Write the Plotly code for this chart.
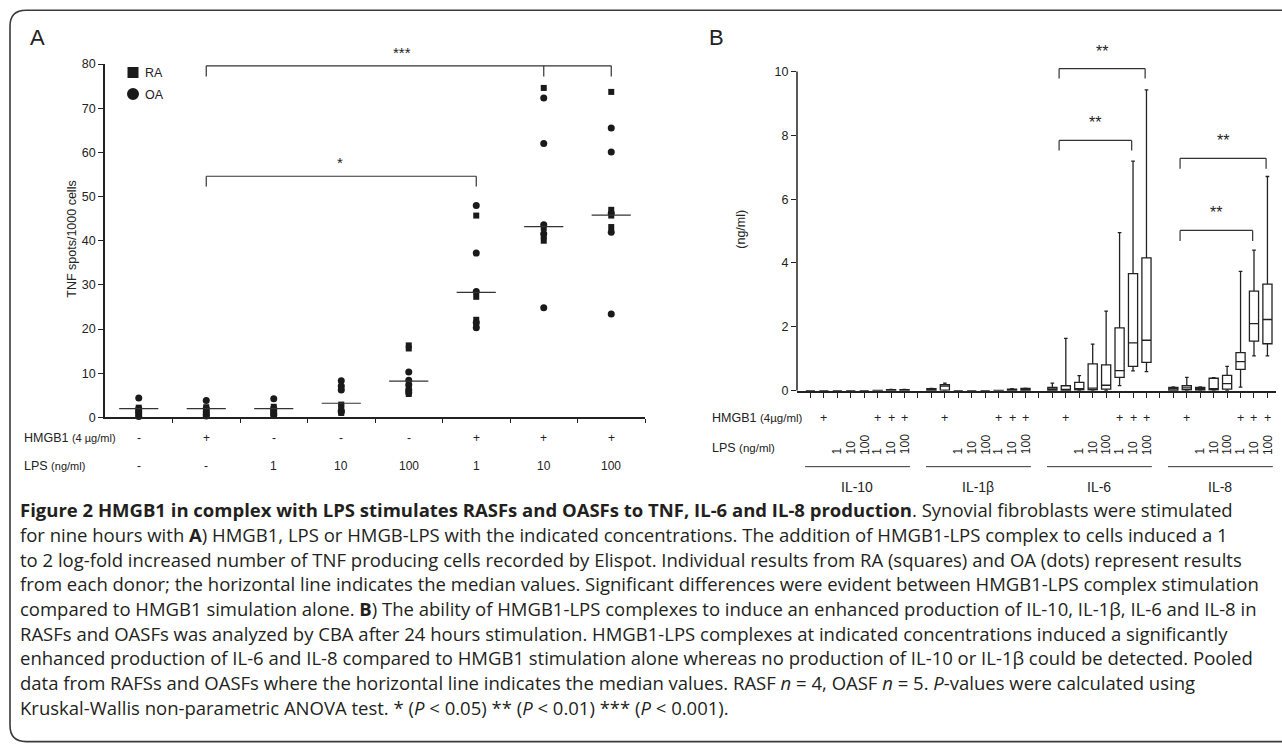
import plotly.graph_objects as go

W, H = 1282, 749

# ---------------- Panel A data (TNF spots / 1000 cells) ----------------
a_categories = [1, 2, 3, 4, 5, 6, 7, 8]
a_hmgb1 = ["-", "+", "-", "-", "-", "+", "+", "+"]
a_lps = ["-", "-", "1", "10", "100", "1", "10", "100"]
a_ra = [
    [2.2, 1.6, 1.0, 0.6],
    [2.3, 1.7, 1.1, 0.5],
    [2.4, 1.8, 1.2, 0.8],
    [6.6, 2.9, 2.4, 1.0],
    [16.3, 15.6, 6.5, 5.3],
    [45.7, 27.3, 22.1, 20.8],
    [74.6, 42.9, 41.0, 40.0],
    [73.7, 47.0, 45.7, 43.1],
]
a_oa = [
    [4.4, 2.0, 1.4, 0.8, 0.2],
    [3.8, 2.0, 1.3, 0.7, 0.3],
    [4.2, 2.0, 1.5, 0.9, 0.5],
    [8.3, 7.1, 6.2, 1.5, 1.2],
    [10.3, 8.4, 7.4, 6.2, 5.6],
    [48.0, 37.2, 28.5, 21.5, 20.3],
    [72.3, 62.0, 43.6, 41.6, 24.8],
    [65.5, 60.1, 46.2, 41.9, 23.4],
]
a_median = [2.0, 2.0, 2.0, 3.2, 8.2, 28.3, 43.2, 45.8]
a_yticks = [0, 10, 20, 30, 40, 50, 60, 70, 80]

# ---------------- Panel B data (ng/ml) ----------------
b_cytokines = ["IL-10", "IL-1β", "IL-6", "IL-8"]
b_hmgb1 = ["", "+", "", "", "", "+", "+", "+"]
b_lps = ["", "", "1", "10", "100", "1", "10", "100"]
b_lower = [
    [0, 0, 0, 0, 0, 0, 0, 0],
    [0, 0, 0, 0, 0, 0, 0, 0],
    [0, 0, 0, 0.01, 0, 0.16, 0.62, 0.60],
    [0, 0, 0, 0, 0, 0.11, 1.09, 1.09],
]
b_q1 = [
    [0, 0, 0, 0, 0, 0, 0.005, 0.005],
    [0.01, 0.02, 0, 0, 0, 0, 0.01, 0.01],
    [0.01, 0.01, 0.03, 0.03, 0.05, 0.42, 0.76, 0.89],
    [0.01, 0.03, 0.02, 0.03, 0.05, 0.67, 1.55, 1.47],
]
b_median = [
    [0, 0, 0, 0, 0, 0, 0.01, 0.01],
    [0.02, 0.14, 0, 0, 0, 0, 0.03, 0.04],
    [0.05, 0.03, 0.05, 0.08, 0.17, 0.63, 1.50, 1.58],
    [0.06, 0.09, 0.06, 0.06, 0.22, 0.91, 2.10, 2.23],
]
b_q3 = [
    [0, 0, 0, 0, 0, 0.01, 0.03, 0.03],
    [0.06, 0.19, 0, 0, 0, 0.01, 0.05, 0.07],
    [0.10, 0.155, 0.26, 0.84, 0.81, 1.97, 3.67, 4.16],
    [0.10, 0.155, 0.10, 0.39, 0.48, 1.19, 3.12, 3.34],
]
b_upper = [
    [0, 0, 0, 0, 0, 0.01, 0.04, 0.04],
    [0.07, 0.24, 0, 0, 0, 0.01, 0.06, 0.08],
    [0.24, 1.64, 0.47, 1.46, 2.49, 4.95, 7.19, 9.42],
    [0.12, 0.42, 0.12, 0.41, 0.76, 3.74, 4.40, 6.71],
]
b_yticks = [0, 2, 4, 6, 8, 10]

caption_lines = [
    "<b>Figure 2 HMGB1 in complex with LPS stimulates RASFs and OASFs to TNF, IL-6 and IL-8 production</b>. Synovial fibroblasts were stimulated",
    "for nine hours with <b>A</b>) HMGB1, LPS or HMGB-LPS with the indicated concentrations. The addition of HMGB1-LPS complex to cells induced a 1",
    "to 2 log-fold increased number of TNF producing cells recorded by Elispot. Individual results from RA (squares) and OA (dots) represent results",
    "from each donor; the horizontal line indicates the median values. Significant differences were evident between HMGB1-LPS complex stimulation",
    "compared to HMGB1 simulation alone. <b>B</b>) The ability of HMGB1-LPS complexes to induce an enhanced production of IL-10, IL-1β, IL-6 and IL-8 in",
    "RASFs and OASFs was analyzed by CBA after 24 hours stimulation. HMGB1-LPS complexes at indicated concentrations induced a significantly",
    "enhanced production of IL-6 and IL-8 compared to HMGB1 stimulation alone whereas no production of IL-10 or IL-1β could be detected. Pooled",
    "data from RAFSs and OASFs where the horizontal line indicates the median values. RASF <i>n</i> = 4, OASF <i>n</i> = 5. <i>P</i>-values were calculated using",
    "Kruskal-Wallis non-parametric ANOVA test. * (<i>P</i> &lt; 0.05) ** (<i>P</i> &lt; 0.01) *** (<i>P</i> &lt; 0.001).",
]

INK = "#222222"
FONT = "Arial, Liberation Sans, sans-serif"


def px(x):
    return x / W


def py(y):
    # target pixel row -> paper coordinate (small correction for observed vertical offset)
    yc = (y - 7.2) / 0.9816
    return 1 - yc / H


def note(text, x, y, xref="paper", yref="paper", size=12, xanchor="center", yanchor="middle", **kw):
    d = dict(text=text, x=x, y=y, xref=xref, yref=yref, showarrow=False,
             xanchor=xanchor, yanchor=yanchor, font=dict(size=size, color=INK))
    d.update(kw)
    return d


fig = go.Figure()

# ---- Panel A traces ----
ra_x, ra_y, oa_x, oa_y = [], [], [], []
for c, vals in zip(a_categories, a_ra):
    ra_x += [c] * len(vals)
    ra_y += vals
for c, vals in zip(a_categories, a_oa):
    oa_x += [c] * len(vals)
    oa_y += vals
fig.add_trace(go.Scatter(x=ra_x, y=ra_y, mode="markers", cliponaxis=False,
                         marker=dict(symbol="square", size=6, color="#1a1a1a"),
                         xaxis="x", yaxis="y", hoverinfo="y"))
fig.add_trace(go.Scatter(x=oa_x, y=oa_y, mode="markers", cliponaxis=False,
                         marker=dict(symbol="circle", size=7, color="#1a1a1a"),
                         xaxis="x", yaxis="y", hoverinfo="y"))
mx, my = [], []
for c, m in zip(a_categories, a_median):
    mx += [c - 0.29, c + 0.29, None]
    my += [m, m, None]
fig.add_trace(go.Scatter(x=mx, y=my, mode="lines", line=dict(color="#333", width=1.2),
                         xaxis="x", yaxis="y", hoverinfo="skip"))

# ---- Panel B traces ----
n_cat = len(b_hmgb1)
slot = n_cat + 1


def bpos(g, c):
    return g * slot + c + 1


for g, name in enumerate(b_cytokines):
    xs = [bpos(g, c) for c in range(n_cat)]
    fig.add_trace(go.Box(
        x=xs, q1=b_q1[g], median=b_median[g], q3=b_q3[g],
        lowerfence=b_lower[g], upperfence=b_upper[g],
        width=0.68, whiskerwidth=0.4, boxpoints=False, name=name,
        line=dict(color=INK, width=1.3), fillcolor="white",
        xaxis="x2", yaxis="y2"))

shapes = []
ann = []

# ---- Panel A decorations ----
bl = dict(color="#333", width=1.2)
for (x0, x1, yh, yl, legs) in [(2, 8, 79.6, 77.2, [2, 7, 8]), (2, 6, 54.6, 52.3, [2, 6])]:
    shapes.append(dict(type="line", xref="x", yref="y", x0=x0, x1=x1, y0=yh, y1=yh, line=bl))
    for lx in legs:
        shapes.append(dict(type="line", xref="x", yref="y", x0=lx, x1=lx, y0=yh, y1=yl, line=bl))
ann.append(note("***", 4.9, py(53), "x", "paper", size=15))
ann.append(note("*", 3.98, py(163), "x", "paper", size=15))
# legend swatches
shapes.append(dict(type="rect", xref="paper", yref="paper", x0=px(127.5), x1=px(138.5),
                   y0=py(78.2), y1=py(67.2), fillcolor="#1a1a1a", line=dict(width=0)))
shapes.append(dict(type="circle", xref="paper", yref="paper", x0=px(127), x1=px(139),
                   y0=py(100.3), y1=py(88.3), fillcolor="#1a1a1a", line=dict(width=0)))
ann.append(note("RA", px(143), py(73), size=12.5, xanchor="left"))
ann.append(note("OA", px(143), py(95), size=12.5, xanchor="left"))
ann.append(note("TNF spots/1000 cells", px(72), py(240), size=12.5, textangle=-90))
ann.append(note("A", px(37), py(38), size=22))
# condition rows A
ann.append(note("HMGB1 <span style='font-size:11px'>(4 µg/ml)</span>", px(22), py(438),
                size=12.5, xanchor="left"))
ann.append(note("LPS <span style='font-size:11px'>(ng/ml)</span>", px(22), py(466),
                size=12.5, xanchor="left"))
for c, h, l in zip(a_categories, a_hmgb1, a_lps):
    ann.append(note(h, c, py(438), "x", "paper", size=12))
    ann.append(note(l, c, py(466), "x", "paper", size=12))

# ---- Panel B decorations ----
shapes.append(dict(type="line", xref="x2 domain", yref="y2", x0=0, x1=0, y0=0, y1=10,
                   line=dict(color=INK, width=1.5)))
g6 = b_cytokines.index("IL-6")
g8 = b_cytokines.index("IL-8")
for g, c_hi, yh, yl in [(g6, 7, 10.09, 9.78), (g6, 6, 7.84, 7.52),
                        (g8, 7, 7.28, 6.95), (g8, 6, 5.02, 4.69)]:
    xl = bpos(g, 1) - 0.5
    xr = bpos(g, c_hi) - 0.1
    shapes.append(dict(type="line", xref="x2", yref="y2", x0=xl, x1=xr, y0=yh, y1=yh, line=bl))
    for lx in (xl, xr):
        shapes.append(dict(type="line", xref="x2", yref="y2", x0=lx, x1=lx, y0=yh, y1=yl, line=bl))
    ann.append(note("**", (xl + xr) / 2, yh + 0.22, "x2", "y2", size=16, yanchor="bottom"))
ann.append(note("(ng/ml)", px(741), py(230), size=12.5, textangle=-90))
ann.append(note("B", px(716), py(38), size=22))
ann.append(note("HMGB1 <span style='font-size:11.5px'>(4µg/ml)</span>", px(710), py(418),
                size=12.5, xanchor="left"))
ann.append(note("LPS <span style='font-size:11.5px'>(ng/ml)</span>", px(710), py(448),
                size=12.5, xanchor="left"))
for g, name in enumerate(b_cytokines):
    for c in range(n_cat):
        if b_hmgb1[c]:
            ann.append(note(b_hmgb1[c], bpos(g, c), py(418), "x2", "paper", size=12.5))
        if b_lps[c]:
            ann.append(note(b_lps[c], bpos(g, c), py(457), "x2", "paper", size=12,
                            yanchor="bottom", textangle=-90))
    x0 = bpos(g, 0) - 0.4
    x1 = bpos(g, n_cat - 1) + 0.4
    shapes.append(dict(type="line", xref="x2", yref="paper", x0=x0, x1=x1, y0=py(467), y1=py(467),
                       line=dict(color="#333", width=1)))
    ann.append(note(name, (x0 + x1) / 2, py(487), "x2", "paper", size=14))

# ---- Caption ----
for i, line in enumerate(caption_lines):
    ann.append(dict(text=line, x=px(18), y=py(510 + i * 24.7), xref="paper", yref="paper",
                    showarrow=False, xanchor="left", yanchor="middle",
                    font=dict(family="Open Sans, sans-serif", size=18.5, color="#231f20")))

# ---- rounded frame ----
L, T, R, B, r = 10, 10.5, 1300, 742, 16
fy = lambda v: py(v)
frame = (f"M {px(L)},{fy(B - r)} L {px(L)},{fy(T + r)} Q {px(L)},{fy(T)} {px(L + r)},{fy(T)} "
         f"L {px(R - r)},{fy(T)} Q {px(R)},{fy(T)} {px(R)},{fy(T + r)} L {px(R)},{fy(B - r)} "
         f"Q {px(R)},{fy(B)} {px(R - r)},{fy(B)} L {px(L + r)},{fy(B)} Q {px(L)},{fy(B)} {px(L)},{fy(B - r)} Z")
shapes.append(dict(type="path", xref="paper", yref="paper", path=frame,
                   line=dict(color="#3a3a3a", width=1.6)))

axis_common = dict(showgrid=False, zeroline=False, linecolor=INK, tickcolor=INK,
                   tickfont=dict(size=12.5, color=INK))
fig.update_layout(
    width=W, height=H, margin=dict(l=0, r=0, t=0, b=0),
    paper_bgcolor="white", plot_bgcolor="white", showlegend=False,
    font=dict(family=FONT, size=12, color=INK),
    xaxis=dict(domain=[px(105), px(645)], range=[0.5, 8.5], anchor="y", showline=True, linewidth=1.5,
               ticks="outside", ticklen=4, tickwidth=1.2,
               tickvals=[c + 0.5 for c in a_categories], showticklabels=False, **axis_common),
    yaxis=dict(domain=[py(417.7), py(64.3)], range=[0, 80], anchor="x", showline=True, linewidth=1.5,
               ticks="outside", ticklen=5, tickwidth=1.2, tickvals=a_yticks, **axis_common),
    xaxis2=dict(domain=[px(797), px(1275.5)], range=[0, 35.6], anchor="y2", showline=True, linewidth=1.6,
                ticks="outside", ticklen=6, tickwidth=1.2,
                tickvals=list(range(1, slot * len(b_cytokines))), showticklabels=False, **axis_common),
    yaxis2=dict(domain=[py(391), py(52.5)], range=[0, 10.6], anchor="x2", showline=False,
                ticks="outside", ticklen=5, tickwidth=1.2, tickvals=b_yticks, **axis_common),
    shapes=shapes, annotations=ann,
)

post = ("var d=document.getElementById('{plot_id}');"
        "d.style.position='fixed';d.style.top='0px';d.style.left='0px';"
        "document.body.style.margin='0px';document.body.style.overflow='hidden';"
        "document.documentElement.style.overflow='hidden';")
fig.write_html("out.html", config={"displayModeBar": False}, post_script=post)
